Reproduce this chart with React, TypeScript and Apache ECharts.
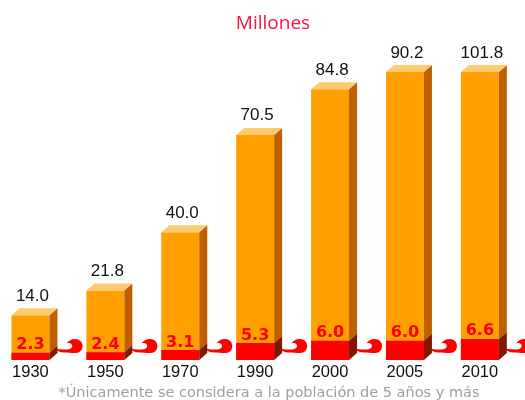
import React, { useEffect, useRef } from "react";
import * as echarts from "echarts";

const years = ["1930", "1950", "1970", "1990", "2000", "2005", "2010"];
const totalValues = [14.0, 21.8, 40.0, 70.5, 84.8, 90.2, 101.8];
const redValues = [2.3, 2.4, 3.1, 5.3, 6.0, 6.0, 6.6];
// the original graphic caps the bars at this height (2010 is drawn as tall as 2005)
const yMax = 90.2;

const titleText = "Millones";
const footnote = "*Únicamente se considera a la población de 5 años y más";

const SWIRL =
  "M0,9 C3,11.5 7,13.5 11,13.5 C15,13.5 18,14 23,14 C27.5,14 30,11 30,7 C30,3 27,0 22.5,0 C18.5,0 15.5,2 13.5,4.5 C16.5,3.5 19.5,4.5 19.5,7 C19.5,9 17,10.5 13,10.5 C8,10.5 4,10 0,9 Z";

const ORANGE = "#FFA000";
const ORANGE_SIDE = "#BF5F00";
const ORANGE_TOP = "#FFCA70";
const RED = "#FF0000";
const RED_SIDE = "#801800";

// front faces sit a little left of the band centre (the 3-D side takes the right part)
const SHIFT = 7;

export default function App() {
  const ref = useRef<HTMLDivElement>(null);
  useEffect(() => {
    if (!ref.current) return;
    const chart = echarts.init(ref.current, null, { renderer: "svg" });
    const dx = 8;
    const dy = 7;
    chart.setOption({
      animation: false,
      title: {
        text: titleText,
        left: 268,
        top: 7,
        textAlign: "center",
        textStyle: {
          color: "#FF1040",
          fontSize: 19,
          fontWeight: "normal",
          fontFamily: "Open Sans",
        },
      },
      grid: { left: 0, right: 0.7, top: 72, bottom: 40 },
      xAxis: {
        type: "category",
        data: years,
        axisLine: { show: false },
        axisTick: { show: false },
        axisLabel: {
          color: "#111",
          fontSize: 16.5,
          lineHeight: 16,
          fontFamily: "Liberation Sans",
          margin: 3,
          padding: [0, SHIFT * 2, 0, 0],
        },
      },
      yAxis: {
        type: "value",
        min: 0,
        max: yMax,
        show: false,
      },
      graphic: [
        {
          type: "text",
          x: 269,
          y: 399,
          style: {
            text: footnote,
            textAlign: "center",
            textVerticalAlign: "bottom",
            lineHeight: 15,
            fill: "#A0A0A0",
            font: '14.5px "DejaVu Sans"',
          },
        },
      ],
      series: [
        {
          type: "custom",
          clip: false,
          encode: { x: 0, y: 1 },
          data: years.map((_, i) => [i, totalValues[i], redValues[i]]),
          renderItem: (params: any, api: any) => {
            const idx = api.value(0);
            const total = api.value(1);
            const red = api.value(2);
            const top = Math.min(total, yMax);
            const base = api.coord([idx, 0]);
            const cx = base[0] - SHIFT;
            const y0 = base[1];
            const yTop = api.coord([idx, top])[1];
            const yRed = api.coord([idx, red])[1];
            const bw = api.size([1, 0])[0] * 0.507;
            const L = cx - bw / 2;
            const R = cx + bw / 2;
            return {
              type: "group",
              children: [
                {
                  type: "path",
                  shape: {
                    pathData: SWIRL,
                    x: R + 4,
                    y: y0 - 21,
                    width: 29,
                    height: 14,
                    layout: "cover",
                  },
                  style: { fill: RED },
                },
                {
                  type: "rect",
                  shape: { x: L, y: yTop, width: bw, height: y0 - yTop },
                  style: { fill: ORANGE },
                },
                {
                  type: "rect",
                  shape: { x: L, y: yRed, width: bw, height: y0 - yRed },
                  style: { fill: RED },
                },
                {
                  type: "polygon",
                  shape: {
                    points: [
                      [R, yTop],
                      [R + dx, yTop - dy],
                      [R + dx, yRed - dy],
                      [R, yRed],
                    ],
                  },
                  style: { fill: ORANGE_SIDE },
                },
                {
                  type: "polygon",
                  shape: {
                    points: [
                      [R, yRed],
                      [R + dx, yRed - dy],
                      [R + dx, y0 - dy],
                      [R, y0],
                    ],
                  },
                  style: { fill: RED_SIDE },
                },
                {
                  type: "polygon",
                  shape: {
                    points: [
                      [L, yTop],
                      [L + dx, yTop - dy],
                      [R + dx, yTop - dy],
                      [R, yTop],
                    ],
                  },
                  style: { fill: ORANGE_TOP },
                },
                {
                  type: "text",
                  style: {
                    text: total.toFixed(1),
                    x: cx + 2,
                    y: yTop - dy - 13,
                    textAlign: "center",
                    textVerticalAlign: "middle",
                    fill: "#111",
                    fontSize: 17,
                    fontFamily: "Liberation Sans",
                  },
                },
                {
                  type: "text",
                  style: {
                    text: red.toFixed(1),
                    x: cx,
                    y: yRed - 1,
                    textAlign: "center",
                    textVerticalAlign: "bottom",
                    fill: RED,
                    fontSize: 16,
                    fontWeight: "bold",
                    fontFamily: "DejaVu Sans",
                  },
                },
              ],
            };
          },
        },
      ],
    });
    return () => chart.dispose();
  }, []);
  return (
    <div
      ref={ref}
      style={{ position: "fixed", left: 0, top: 0, width: 525, height: 400 }}
    />
  );
}
